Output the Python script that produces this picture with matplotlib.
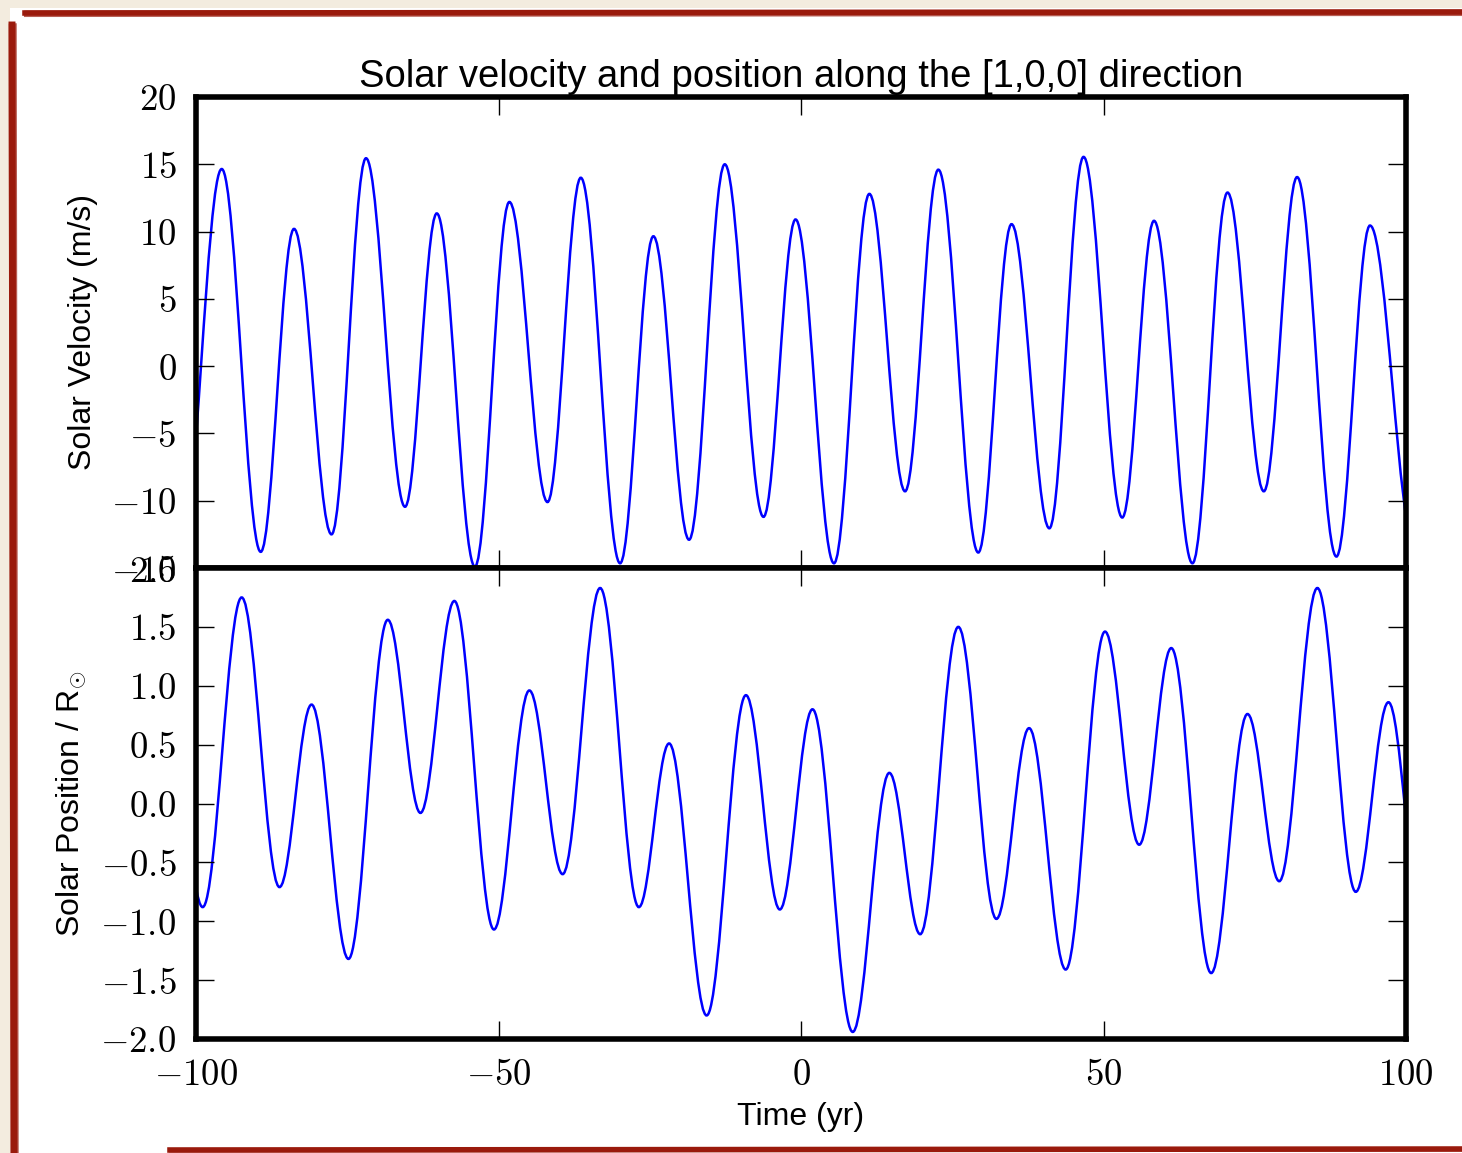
import matplotlib
matplotlib.use("Agg")
import matplotlib.pyplot as plt
from matplotlib.path import Path
from matplotlib.patches import PathPatch, Rectangle
from matplotlib.lines import Line2D

plt.rcParams['font.family'] = ['Liberation Sans', 'DejaVu Sans']
plt.rcParams['mathtext.fontset'] = 'cm'

# turning points of the velocity curve (yr, m/s); first and last lie just outside the axes
vel_t = [-102.5, -95.75, -89.3, -83.8, -77.6, -71.9, -65.45, -60.2, -53.9, -48.2,
         -41.9, -36.4, -29.9, -24.4, -18.5, -12.6, -6.2, -0.9, 5.45, 11.3,
         17.2, 22.7, 29.3, 34.8, 41.05, 46.7, 53.1, 58.35, 64.7, 70.5,
         76.5, 82.0, 88.5, 94.05, 101.5]
vel_v = [-14.0, 14.65, -13.8, 10.2, -12.5, 15.45, -10.45, 11.35, -14.9, 12.2,
         -10.1, 14.0, -14.65, 9.65, -12.9, 15.0, -11.2, 10.9, -14.65, 12.8,
         -9.3, 14.6, -13.85, 10.55, -12.05, 15.55, -11.25, 10.8, -14.65, 12.9,
         -9.3, 14.05, -14.15, 10.45, -13.5]

# turning points of the position curve (yr, solar radii)
pos_t = [-104, -98.9, -92.45, -86.2, -80.9, -74.8, -68.3, -62.9, -57.3, -50.75,
         -44.9, -39.4, -33.2, -26.8, -21.8, -15.6, -9.1, -3.5, 1.9, 8.55,
         14.6, 19.7, 26.0, 32.3, 37.7, 43.75, 50.25, 55.9, 61.2, 67.8,
         73.8, 79.05, 85.35, 91.7, 97.1, 102.5]
pos_v = [0.6, -0.88, 1.75, -0.71, 0.84, -1.32, 1.56, -0.08, 1.72, -1.07,
         0.96, -0.60, 1.83, -0.88, 0.51, -1.80, 0.92, -0.90, 0.80, -1.94,
         0.26, -1.11, 1.50, -0.98, 0.64, -1.41, 1.46, -0.35, 1.32, -1.44,
         0.76, -0.66, 1.83, -0.75, 0.86, -0.9]

time_ticks = [-100, -50, 0, 50, 100]
time_labels = ['$-100$', '$-50$', '$0$', '$50$', '$100$']
vel_ticks = [-15, -10, -5, 0, 5, 10, 15, 20]
vel_labels = ['$-15$', '$-10$', '$-5$', '$0$', '$5$', '$10$', '$15$', '$20$']
pos_ticks = [-2.0, -1.5, -1.0, -0.5, 0.0, 0.5, 1.0, 1.5, 2.0]
pos_labels = ['$-2.0$', '$-1.5$', '$-1.0$', '$-0.5$', '$0.0$', '$0.5$', '$1.0$', '$1.5$', '$2.0$']

W, H = 1462, 1153


def smooth_path(t, v, k=0.36):
    # bezier through the turning points, flat tangent at each one
    verts = [(t[0], v[0])]
    codes = [Path.MOVETO]
    for i in range(len(t) - 1):
        dt = t[i + 1] - t[i]
        verts += [(t[i] + k * dt, v[i]), (t[i + 1] - k * dt, v[i + 1]), (t[i + 1], v[i + 1])]
        codes += [Path.CURVE4] * 3
    return Path(verts, codes)


fig = plt.figure(figsize=(W / 100, H / 100), dpi=100)
fig.patch.set_facecolor('#f3ecdf')

# paper and red scribbled frame
fig.add_artist(Rectangle((10 / W, 0), 1, 1 - 8 / H, transform=fig.transFigure,
                         facecolor='white', edgecolor='none', zorder=-10))
red = '#9a1a0c'
for dy, lw, a in [(0, 4.0, 1.0), (3, 1.5, 0.7), (-2, 1.0, 0.5)]:
    fig.add_artist(Line2D([25 / W, 1], [1 - (13 + dy) / H, 1 - (12 + dy) / H],
                          transform=fig.transFigure, color=red, lw=lw, alpha=a))
    fig.add_artist(Line2D([(12 + dy) / W, (14 + dy) / W], [1 - 25 / H, 0],
                          transform=fig.transFigure, color=red, lw=lw + 1, alpha=a))
    fig.add_artist(Line2D([170 / W, 1], [1 - (1150 + dy / 2) / H, 1 - (1149 + dy / 2) / H],
                          transform=fig.transFigure, color=red, lw=lw, alpha=a))

left, width = 196 / W, 1210 / W
ax1 = fig.add_axes([left, 1 - 568 / H, width, 471 / H])
ax2 = fig.add_axes([left, 1 - 1039 / H, width, 471 / H])

ax1.add_patch(PathPatch(smooth_path(vel_t, vel_v), facecolor='none', edgecolor='#0000ff', lw=1.8))
ax2.add_patch(PathPatch(smooth_path(pos_t, pos_v), facecolor='none', edgecolor='#0000ff', lw=1.8))

ax1.set_ylim(-15, 20)
ax2.set_ylim(-2.0, 2.0)
for ax in (ax1, ax2):
    ax.set_xlim(-100, 100)
    ax.set_xticks(time_ticks)
    ax.set_xticklabels(time_labels)
    for s in ax.spines.values():
        s.set_linewidth(4)
    ax.tick_params(direction='in', length=13, width=1, top=True, right=True,
                   labelsize=26.5, pad=14)

ax1.set_yticks(vel_ticks)
ax1.set_yticklabels(vel_labels)
ax1.tick_params(labelbottom=False)
ax2.set_yticks(pos_ticks)
ax2.set_yticklabels(pos_labels)

ax1.set_title('Solar velocity and position along the [1,0,0] direction', fontsize=27.5, pad=7)
ax1.set_ylabel('Solar Velocity (m/s)', fontsize=23, labelpad=9)
ax2.set_ylabel(r'Solar Position / R$_{\odot}$', fontsize=23, labelpad=9)
ax2.set_xlabel('Time (yr)', fontsize=23, labelpad=6)

fig.savefig('out.png', dpi=100, facecolor=fig.get_facecolor())
